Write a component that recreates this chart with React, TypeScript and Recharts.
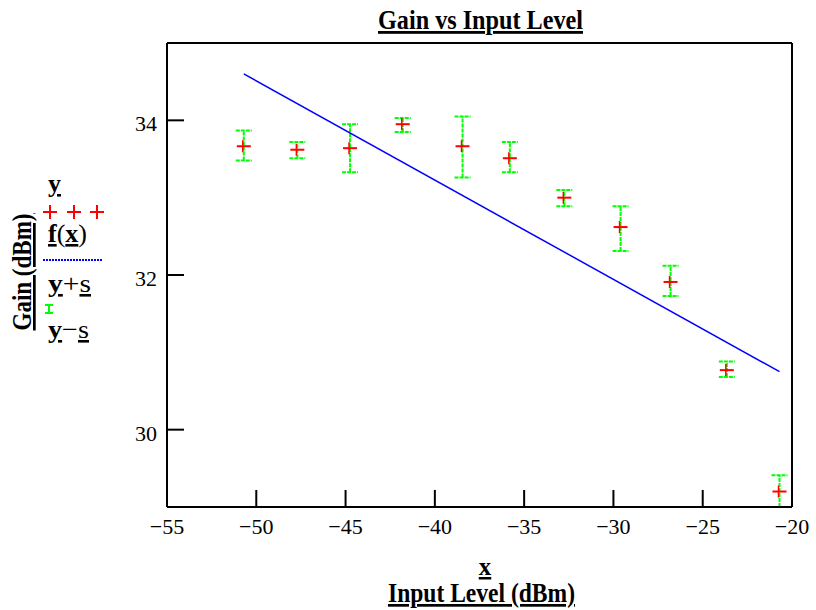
import { ComposedChart, Scatter, XAxis, YAxis, ErrorBar } from 'recharts'

// measured input level (dBm) and gain (dBm), with +/- s bounds
const inputLevel = [-50.7, -47.7, -44.75, -41.8, -38.45, -35.8, -32.75, -29.6, -26.8, -23.65, -20.7]
const gain = [33.665, 33.62, 33.64, 33.95, 33.665, 33.51, 33.0, 32.62, 31.91, 30.77, 29.2]
const gainUpper = [33.87, 33.72, 33.95, 34.03, 34.05, 33.72, 33.1, 32.89, 32.12, 30.88, 29.41]
const gainLower = [33.48, 33.51, 33.33, 33.85, 33.26, 33.33, 32.89, 32.31, 31.73, 30.68, 29.0]

// fitted line f(x), end points
const fitX = [-50.7, -20.7]
const fitY = [34.6, 30.75]

const xTicks = [-55, -50, -45, -40, -35, -30, -25, -20]
const yTicks = [30, 32, 34]

const points = inputLevel.map((x, i) => ({
  x,
  y: gain[i],
  err: [gain[i] - gainLower[i], gainUpper[i] - gain[i]],
}))
const fitLine = fitX.map((x, i) => ({ x, y: fitY[i] }))

const serif = "'Liberation Serif', 'Times New Roman', serif"
const fmt = (v: number) => (v < 0 ? '\u2212' + Math.abs(v) : String(v))

const BottomTick = (props: any) => {
  const { x, y, payload } = props
  return (
    <text x={x} y={y} textAnchor="middle" fontSize={22} style={{ fontFamily: serif }} fill="#000">
      {fmt(payload.value)}
    </text>
  )
}

const LeftTick = (props: any) => {
  const { x, y, payload } = props
  return (
    <text x={x} y={y + 11} textAnchor="end" fontSize={22} style={{ fontFamily: serif }} fill="#000">
      {fmt(payload.value)}
    </text>
  )
}

const RedCross = (props: any) => {
  const { cx, cy } = props
  return (
    <g>
      <line x1={cx - 7} x2={cx + 7} y1={cy} y2={cy} stroke="#ff0000" strokeWidth={2} />
      <line x1={cx - 1} x2={cx - 1} y1={cy - 6} y2={cy + 6} stroke="#ff0000" strokeWidth={1.5} />
    </g>
  )
}

const axisLine = { stroke: '#000', strokeWidth: 2 }
const tickLine = { stroke: '#000', strokeWidth: 2 }
const under = { textDecoration: 'underline', textDecorationSkipInk: 'none' } as any

export default function App() {
  return (
    <div style={{ position: 'fixed', left: 0, top: 0, width: 816, height: 610, background: '#fff' }}>
      <ComposedChart width={816} height={610} margin={{ top: 42, right: 23, bottom: 73, left: 107 }}>
        <XAxis
          xAxisId="b"
          dataKey="x"
          type="number"
          orientation="bottom"
          domain={[-55, -20]}
          ticks={xTicks}
          interval={0}
          allowDataOverflow
          height={30}
          tickSize={-17}
          tickMargin={44}
          axisLine={axisLine}
          tickLine={tickLine}
          tick={<BottomTick />}
        />
        <XAxis
          xAxisId="t"
          dataKey="x"
          type="number"
          orientation="top"
          domain={[-55, -20]}
          ticks={xTicks}
          interval={0}
          allowDataOverflow
          height={1}
          tickSize={-17}
          axisLine={axisLine}
          tickLine={tickLine}
          tick={false}
        />
        <YAxis
          yAxisId="l"
          dataKey="y"
          type="number"
          orientation="left"
          domain={[29, 35]}
          ticks={yTicks}
          interval={0}
          allowDataOverflow
          width={60}
          tickSize={-17}
          tickMargin={27}
          axisLine={axisLine}
          tickLine={tickLine}
          tick={<LeftTick />}
        />
        <YAxis
          yAxisId="r"
          dataKey="y"
          type="number"
          orientation="right"
          domain={[29, 35]}
          ticks={yTicks}
          interval={0}
          allowDataOverflow
          width={1}
          tickSize={-17}
          axisLine={axisLine}
          tickLine={tickLine}
          tick={false}
        />
        <Scatter
          xAxisId="t"
          yAxisId="r"
          data={fitLine}
          line={{ stroke: '#0000ff', strokeWidth: 1.5 }}
          shape={() => <g />}
          isAnimationActive={false}
        />
        <Scatter xAxisId="b" yAxisId="l" data={points} shape={<RedCross />} isAnimationActive={false}>
          <ErrorBar
            dataKey="err"
            direction="y"
            width={8}
            stroke="#00ff00"
            strokeWidth={2}
            strokeDasharray="4 1"
            isAnimationActive={false}
          />
        </Scatter>
      </ComposedChart>

      <svg
        width={816}
        height={610}
        style={{ position: 'absolute', left: 0, top: 0, pointerEvents: 'none', fontFamily: serif }}
      >
        <text x={480.5} y={29} textAnchor="middle" fontSize={28} fontWeight="bold" style={under} textLength={205} lengthAdjust="spacingAndGlyphs">
          Gain vs Input Level
        </text>
        <text x={485} y={575} textAnchor="middle" fontSize={25} fontWeight="bold" style={under}>
          x
        </text>
        <text x={481.5} y={602} textAnchor="middle" fontSize={27} fontWeight="bold" style={under} textLength={187} lengthAdjust="spacingAndGlyphs">
          Input Level (dBm)
        </text>
        <text x={31} y={272} transform="rotate(-90 31 272)" textAnchor="middle" fontSize={27} fontWeight="bold" style={under} textLength={117} lengthAdjust="spacingAndGlyphs">
          Gain (dBm)
        </text>

        {/* legend */}
        <text x={48} y={192} fontSize={26} fontWeight="bold" style={under}>y</text>
        {[50, 74, 97].map((cx) => (
          <g key={cx}>
            <line x1={cx - 7} x2={cx + 7} y1={212} y2={212} stroke="#ff0000" strokeWidth={2} />
            <line x1={cx} x2={cx} y1={205} y2={219} stroke="#ff0000" strokeWidth={2} />
          </g>
        ))}
        <text x={48} y={242} fontSize={26} textLength={39} lengthAdjust="spacingAndGlyphs">
          <tspan fontWeight="bold" style={under}>f</tspan>
          <tspan>(</tspan>
          <tspan fontWeight="bold" style={under}>x</tspan>
          <tspan>)</tspan>
        </text>
        <line x1={43} x2={103} y1={260} y2={260} stroke="#0000ff" strokeWidth={2} strokeDasharray="2 1" />
        <text x={48} y={292} fontSize={26} textLength={43} lengthAdjust="spacingAndGlyphs">
          <tspan fontWeight="bold" style={under}>y</tspan>
          <tspan>+</tspan>
          <tspan style={under}>s</tspan>
        </text>
        <g stroke="#00ff00" strokeWidth={2}>
          <line x1={45} x2={53} y1={305} y2={305} />
          <line x1={49} x2={49} y1={305} y2={313} />
          <line x1={45} x2={53} y1={313} y2={313} />
        </g>
        <text x={48} y={338} fontSize={26} textLength={41} lengthAdjust="spacingAndGlyphs">
          <tspan fontWeight="bold" style={under}>y</tspan>
          <tspan>{'\u2212'}</tspan>
          <tspan style={under}>s</tspan>
        </text>
      </svg>
    </div>
  )
}
